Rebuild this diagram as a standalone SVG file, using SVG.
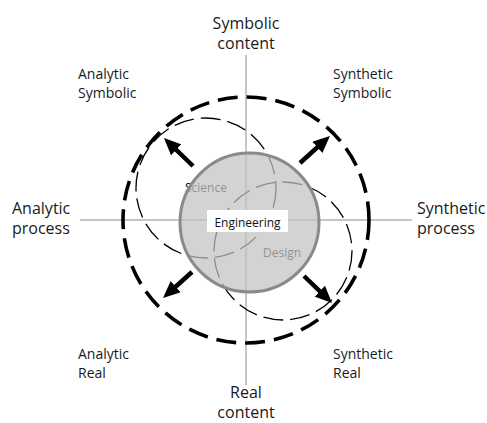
<svg xmlns="http://www.w3.org/2000/svg" width="487" height="423" viewBox="0 0 487 423">
<defs>
<style>
.axis{stroke:#8c8c8c;stroke-width:1;fill:none}
.outer{stroke:#000;stroke-width:3.6;fill:none;stroke-dasharray:20 9}
.inner{stroke:#000;stroke-width:1.3;fill:none;stroke-dasharray:20 7}
.core{fill:#c2c2c2;fill-opacity:0.72;stroke:#8a8a8a;stroke-width:3}
.arrow{stroke:#000;stroke-width:4.5;fill:none;marker-end:url(#head)}
.ax{font-family:"Open Sans","Noto Sans",sans-serif;font-size:16px;fill:#1a1a1a}
.cn{font-family:"Open Sans","Noto Sans",sans-serif;font-size:14px;fill:#1a1a1a}
.in{font-family:"Open Sans","Noto Sans",sans-serif;font-size:12px;fill:#111}
</style>
<marker id="head" markerUnits="userSpaceOnUse" markerWidth="17" markerHeight="15" refX="11" refY="7.5" orient="auto">
<path d="M0,0 L17,7.5 L0,15 z" fill="#000"/>
</marker>
</defs>
<rect width="487" height="423" fill="#fff"/>
<g id="axes">
<line class="axis" x1="246" y1="55" x2="246" y2="385"/>
<line class="axis" x1="80" y1="220" x2="412" y2="220"/>
</g>
<g id="outer-circle"><circle class="outer" cx="246" cy="220" r="123"/></g>
<g id="science-circle"><circle class="inner" cx="206" cy="188" r="70"/></g>
<g id="design-circle"><circle class="inner" cx="283" cy="251" r="69"/></g>
<g id="science"><text class="in" x="185" y="192">Science</text></g>
<g id="design"><text class="in" x="263" y="257">Design</text></g>
<g id="engineering-circle"><circle class="core" cx="249.5" cy="222.5" r="69.5"/></g>
<g id="engineering">
<rect x="207" y="210" width="81" height="22" fill="#fff"/>
<text class="in" x="247.5" y="226.5" text-anchor="middle">Engineering</text>
</g>
<g id="connectors">
<line class="arrow" x1="193" y1="166" x2="168.3" y2="142.2"/>
<line class="arrow" x1="300" y1="163" x2="325.5" y2="140"/>
<line class="arrow" x1="192" y1="272" x2="167.5" y2="294"/>
<line class="arrow" x1="304" y1="276" x2="327.7" y2="298.8"/>
</g>
<g id="symbolic-content"><text class="ax" text-anchor="middle"><tspan x="246" y="28.5">Symbolic</tspan><tspan x="246" y="48.5">content</tspan></text></g>
<g id="real-content"><text class="ax" text-anchor="middle"><tspan x="246" y="398">Real</tspan><tspan x="246" y="418">content</tspan></text></g>
<g id="analytic-process"><text class="ax"><tspan x="12" y="213.5">Analytic</tspan><tspan x="12" y="233.5">process</tspan></text></g>
<g id="synthetic-process"><text class="ax"><tspan x="417" y="213.5">Synthetic</tspan><tspan x="417" y="233.5">process</tspan></text></g>
<g id="analytic-symbolic"><text class="cn"><tspan x="78" y="79.3">Analytic</tspan><tspan x="78" y="98">Symbolic</tspan></text></g>
<g id="synthetic-symbolic"><text class="cn"><tspan x="333" y="79.3">Synthetic</tspan><tspan x="333" y="98">Symbolic</tspan></text></g>
<g id="analytic-real"><text class="cn"><tspan x="78" y="359">Analytic</tspan><tspan x="78" y="377.5">Real</tspan></text></g>
<g id="synthetic-real"><text class="cn"><tspan x="333" y="359">Synthetic</tspan><tspan x="333" y="377.5">Real</tspan></text></g>
</svg>
